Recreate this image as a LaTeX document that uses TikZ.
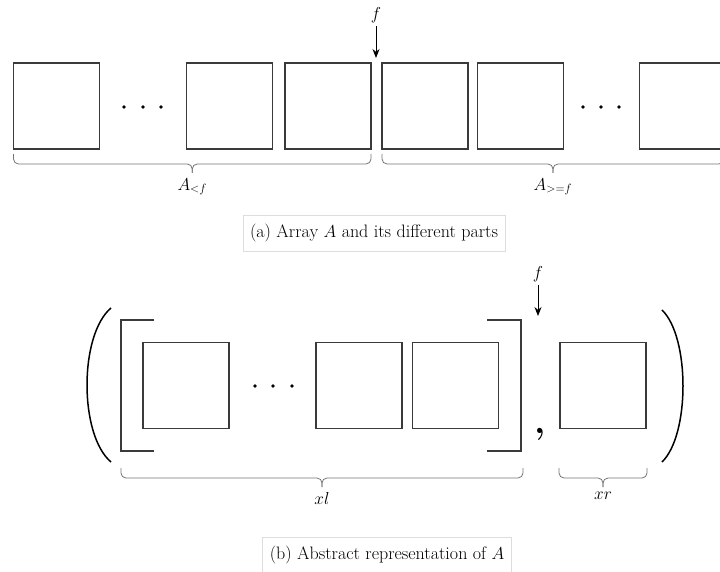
\documentclass[tikz,border=0pt]{standalone}
\usetikzlibrary{arrows.meta}
\definecolor{boxc}{HTML}{3A3A3A}
\definecolor{capc}{HTML}{DDDDDD}
\tikzset{
  cell/.style={draw=boxc, line width=1.7pt, minimum width=86pt, minimum height=86pt, inner sep=0pt},
  dotc/.style={fill=black, circle, inner sep=0pt, minimum size=3.6pt},
  brline/.style={draw=boxc!70, line width=0.8pt, rounded corners=5pt},
  lbl/.style={font=\fontsize{18}{20}\selectfont},
  captn/.style={draw=capc, line width=0.6pt, inner xsep=7pt, minimum height=36pt, font=\fontsize{18}{20}\selectfont},
  fptr/.style={-{Stealth[length=9pt,width=7pt]}, line width=0.9pt, draw=black},
  brk/.style={draw=boxc, line width=2pt},
  paren/.style={draw=black, line width=1.5pt},
}
% #1 left x, #2 right x, #3 top y, #4 node name, #5 label
\newcommand\mybrace[5]{%
  \draw[brline] (#1,#3) -- (#1,{#3+10}) -- ({(#1+#2)/2},{#3+10}) -- ({(#1+#2)/2},{#3+19});
  \draw[brline] (#2,#3) -- (#2,{#3+10}) -- ({(#1+#2)/2},{#3+10}) -- ({(#1+#2)/2},{#3+19});
  \node[lbl, anchor=north] (#4) at ({(#1+#2)/2},{#3+21}) {#5};
}
\begin{document}
\begin{tikzpicture}[x=1pt,y=-1pt]
\clip (0,0) rectangle (720,572);
\fill[white] (0,0) rectangle (720,572);
% ---- (a) ----
\node[cell] (a1) at (56.5,106) {};
\node[dotc] (ad1) at (124,107) {};
\node[dotc] (ad2) at (143,107) {};
\node[dotc] (ad3) at (161,107) {};
\node[cell] (a2) at (229.5,106) {};
\node[cell] (a3) at (328,106) {};
\node[cell] (a4) at (425,106) {};
\node[cell] (a5) at (520.5,106) {};
\node[dotc] (ad4) at (583,107) {};
\node[dotc] (ad5) at (601,107) {};
\node[dotc] (ad6) at (619,107) {};
\node[cell] (a6) at (682.5,106) {};
\node[lbl] (af) at (376,15) {$f$};
\coordinate (aft) at (376,58);
\draw[fptr] (af.south) -- (aft);
\mybrace{13.5}{371}{154}{alf}{$A_{<f}$}
\mybrace{382}{724}{154}{agf}{$A_{>=f}$}
\node[captn] (capa) at (374,233) {(a) Array $A$ and its different parts};
% ---- (b) ----
\node[cell] (b1) at (186,385.5) {};
\node[dotc] (bd1) at (255,386) {};
\node[dotc] (bd2) at (273,386) {};
\node[dotc] (bd3) at (292,386) {};
\node[cell] (b2) at (359,385.5) {};
\node[cell] (b3) at (455.5,385.5) {};
\node[cell] (b4) at (603,385.5) {};
\draw[brk] (154,320) -- (121,320) -- (121,451) -- (154,451);
\draw[brk] (487,320) -- (521,320) -- (521,451) -- (487,451);
\node[font=\fontsize{36}{36}\selectfont\bfseries] (comma) at (540,434) {,};
\draw[paren] (111,308) .. controls (79,335) and (79,435) .. (111,462);
\draw[paren] (662,310) .. controls (690,337) and (690,435) .. (662,462);
\node[lbl] (bf) at (538,274) {$f$};
\coordinate (bft) at (538,316);
\draw[fptr] (bf.south) -- (bft);
\mybrace{121}{523}{468}{bxl}{$xl$}
\mybrace{559}{647}{468}{bxr}{$xr$}
\node[captn] (capb) at (387,555) {(b) Abstract representation of $A$};
\end{tikzpicture}
\end{document}
